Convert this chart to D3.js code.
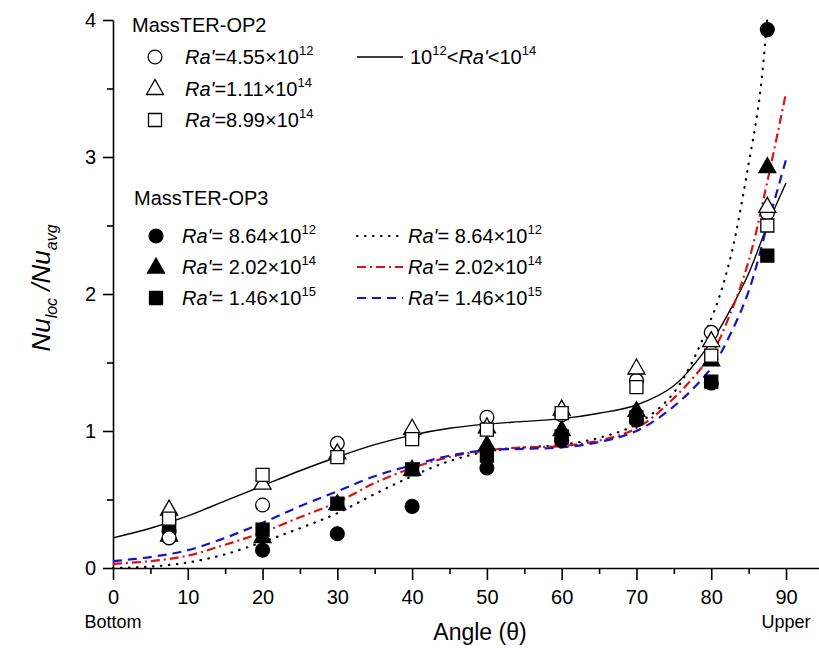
<!DOCTYPE html>
<html><head><meta charset="utf-8">
<script src="https://cdn.jsdelivr.net/npm/d3@7"></script>
<style>
body{margin:0;background:#fff;}
svg text{font-family:"Liberation Sans",Arial,sans-serif;fill:#000;}
</style></head>
<body><svg id="c" width="819" height="648"></svg>
<script>
// ---- data ----
const angles = [7.5, 20, 30, 40, 50, 60, 70, 80, 87.5];
const op2Ra455e12 = [0.22, 0.46, 0.91, 0.96, 1.10, 1.12, 1.37, 1.72, 2.59];
const op2Ra111e14 = [0.43, 0.62, 0.84, 1.02, 1.03, 1.16, 1.46, 1.66, 2.64];
const op2Ra899e14 = [0.36, 0.68, 0.81, 0.94, 1.01, 1.13, 1.32, 1.55, 2.50];
const op3Ra864e12 = [0.27, 0.13, 0.25, 0.45, 0.73, 0.93, 1.08, 1.35, 3.93];
const op3Ra202e14 = [0.24, 0.23, 0.47, 0.72, 0.90, 1.01, 1.15, 1.52, 2.93];
const op3Ra146e15 = [0.30, 0.28, 0.47, 0.72, 0.82, 0.96, 1.10, 1.36, 2.28];

const curveAngles = [0,5,10,15,20,25,30,35,40,45,50,55,60,65,70,75,80,82.5,85,87.5,90];
const fitOP2 = [0.22,0.29,0.38,0.49,0.60,0.71,0.81,0.90,0.97,1.02,1.05,1.07,1.09,1.13,1.19,1.33,1.65,1.88,2.15,2.50,2.81];
const fitRa202e14 = [0.03,0.05,0.09,0.17,0.26,0.37,0.48,0.62,0.73,0.81,0.86,0.88,0.89,0.93,1.02,1.24,1.56,1.85,2.24,2.82,3.47];
const fitRa146e15 = [0.05,0.08,0.13,0.22,0.33,0.45,0.56,0.67,0.75,0.82,0.86,0.87,0.88,0.92,1.00,1.18,1.46,1.70,2.02,2.50,2.98];
const dottedAngles = [0,5,10,15,20,25,30,35,40,45,50,55,60,65,70,75,80,82.5,85,86.5,87.5];
const fitRa864e12 = [0.0,0.01,0.04,0.10,0.19,0.29,0.40,0.54,0.67,0.78,0.85,0.88,0.90,0.95,1.05,1.28,1.82,2.25,2.95,3.45,4.02];

const xMajor = [0,10,20,30,40,50,60,70,80,90];
const xMinor = [5,15,25,35,45,55,65,75,85];
const yMajor = [0,1,2,3,4];
const yMinor = [0.5,1.5,2.5,3.5];

// ---- setup ----
const svg = d3.select("#c");
const x = d3.scaleLinear().domain([0,95]).range([113, 113 + 95*7.478]);
const y = d3.scaleLinear().domain([0,4]).range([568, 20]);

// axes
svg.append("g").attr("transform","translate(0,568)")
  .call(d3.axisBottom(x).tickValues(xMajor).tickSize(12).tickPadding(10).tickFormat(d3.format("d")).tickSizeOuter(0));
svg.append("g").attr("transform","translate(0,568)")
  .call(d3.axisBottom(x).tickValues(xMinor).tickSize(6).tickFormat("").tickSizeOuter(0))
  .select(".domain").remove();
svg.append("g").attr("transform","translate(113,0)")
  .call(d3.axisLeft(y).tickValues(yMajor).tickSize(10).tickPadding(7).tickFormat(d3.format("d")).tickSizeOuter(0));
svg.append("g").attr("transform","translate(113,0)")
  .call(d3.axisLeft(y).tickValues(yMinor).tickSize(6).tickFormat("").tickSizeOuter(0))
  .select(".domain").remove();
svg.selectAll(".domain, .tick line").attr("stroke","#000").attr("stroke-width",1.6);
svg.selectAll(".tick text").attr("font-size",20).attr("font-family",'"Liberation Sans",Arial,sans-serif');

// axis titles
svg.append("text").attr("x",x(0)).attr("y",628).attr("text-anchor","middle").attr("font-size",18).text("Bottom");
svg.append("text").attr("x",x(90)).attr("y",628).attr("text-anchor","middle").attr("font-size",18).text("Upper");
svg.append("text").attr("x",480).attr("y",640).attr("text-anchor","middle").attr("font-size",23).text("Angle (θ)");
const yt = svg.append("text").attr("transform","translate(50,288) rotate(-90)").attr("text-anchor","middle").attr("font-size",26).attr("font-style","italic");
yt.append("tspan").text("Nu");
yt.append("tspan").attr("font-size",16).attr("dy",7).text("loc");
yt.append("tspan").attr("dy",-7).text(" /Nu");
yt.append("tspan").attr("font-size",16).attr("dy",7).text("avg");

// curves
const line = d3.line().x(d=>x(d[0])).y(d=>y(d[1])).curve(d3.curveCatmullRom.alpha(0.5));
const curves = [
  {a: curveAngles, v: fitOP2, color:"#000", w:1.4, dash:null},
  {a: dottedAngles, v: fitRa864e12, color:"#000", w:2.2, dash:"0.5,7.5", cap:"round"},
  {a: curveAngles, v: fitRa202e14, color:"#e01010", w:2.2, dash:"9,4,2,4"},
  {a: curveAngles, v: fitRa146e15, color:"#1414c8", w:2.2, dash:"9,6"}
];
curves.forEach(c=>{
  svg.append("path").datum(c.a.map((a,i)=>[a,c.v[i]]))
    .attr("d",line).attr("fill","none").attr("stroke",c.color).attr("stroke-width",c.w)
    .attr("stroke-dasharray",c.dash).attr("stroke-linecap",c.cap||"butt");
});

// markers
const circleSym = d3.symbol().type(d3.symbolCircle).size(150);
function shape(g, type, filled, cx, cy){
  const p = g.append("path").attr("transform",`translate(${cx},${cy})`)
    .attr("fill", filled ? "#000" : "#fff").attr("stroke","#000").attr("stroke-width",1.3);
  if(type==="triangle") p.attr("d","M0,-9L8.5,6L-8.5,6Z");
  else if(type==="square") p.attr("d","M-6.5,-6.5H6.5V6.5H-6.5Z");
  else p.attr("d", circleSym());
}
const series = [
  {v: op3Ra146e15, t:"square", f:true},
  {v: op3Ra202e14, t:"triangle", f:true},
  {v: op3Ra864e12, t:"circle", f:true},
  {v: op2Ra455e12, t:"circle", f:false},
  {v: op2Ra111e14, t:"triangle", f:false},
  {v: op2Ra899e14, t:"square", f:false}
];
const gm = svg.append("g");
series.forEach(s=>s.v.forEach((v,i)=>shape(gm, s.t, s.f, x(angles[i]), y(v))));

// legend
function raText(g, xx, yy, pre, mant, exp){
  const t = g.append("text").attr("x",xx).attr("y",yy).attr("font-size",20);
  t.append("tspan").attr("font-style","italic").text("Ra'");
  t.append("tspan").text(pre + mant + "×10");
  t.append("tspan").attr("font-size",13).attr("dy",-9).text(exp);
  return t;
}
const lg = svg.append("g");
lg.append("text").attr("x",132).attr("y",32).attr("font-size",20).text("MassTER-OP2");
const op2Leg = [["circle","4.55","12"],["triangle","1.11","14"],["square","8.99","14"]];
op2Leg.forEach((d,i)=>{
  const cy = 57 + i*31.5;
  shape(lg, d[0], false, 155, cy);
  raText(lg, 185, cy+7, "=", d[1], d[2]);
});
lg.append("line").attr("x1",357).attr("x2",403).attr("y1",57).attr("y2",57).attr("stroke","#000").attr("stroke-width",1.4);
const t2 = lg.append("text").attr("x",410).attr("y",64).attr("font-size",20);
t2.append("tspan").text("10");
t2.append("tspan").attr("font-size",13).attr("dy",-9).text("12");
t2.append("tspan").attr("dy",9).text("<");
t2.append("tspan").attr("font-style","italic").text("Ra'");
t2.append("tspan").text("<10");
t2.append("tspan").attr("font-size",13).attr("dy",-9).text("14");

lg.append("text").attr("x",134).attr("y",205).attr("font-size",20).text("MassTER-OP3");
const op3Leg = [["circle","8.64","12",1],["triangle","2.02","14",2],["square","1.46","15",3]];
op3Leg.forEach((d,i)=>{
  const cy = 236 + i*31;
  shape(lg, d[0], true, 156, cy);
  raText(lg, 182, cy+7, "= ", d[1], d[2]);
  const c = curves[d[3]];
  lg.append("line").attr("x1",357).attr("x2",403).attr("y1",cy).attr("y2",cy)
    .attr("stroke",c.color).attr("stroke-width",c.w).attr("stroke-dasharray",c.dash).attr("stroke-linecap",c.cap||"butt");
  raText(lg, 408, cy+7, "= ", d[1], d[2]);
});
</script></body></html>
